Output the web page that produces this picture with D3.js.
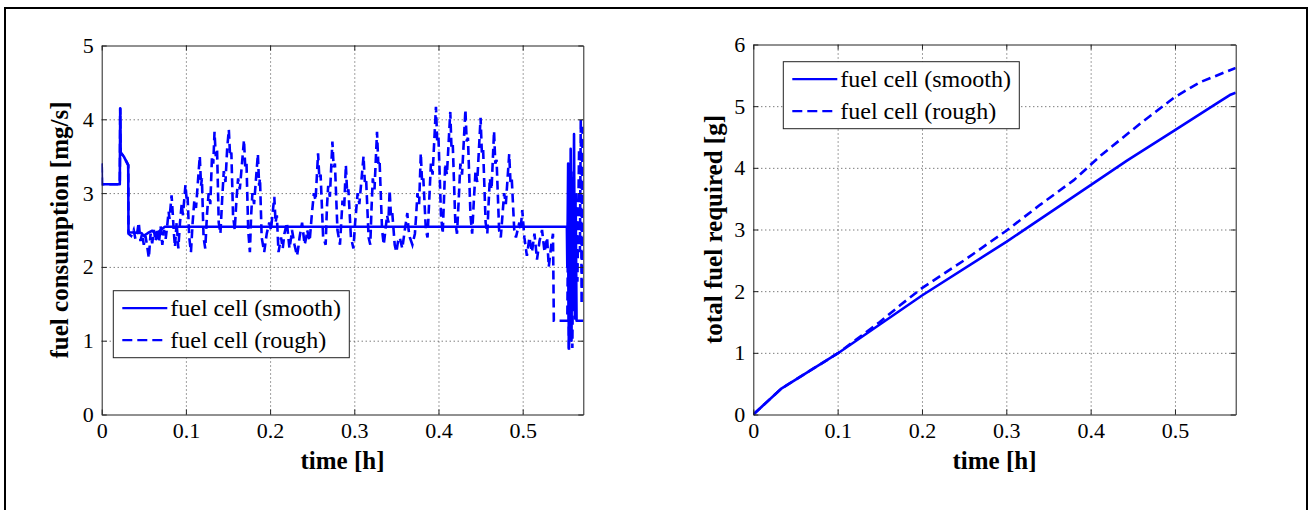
<!DOCTYPE html>
<html>
<head>
<meta charset="utf-8">
<script src="https://cdn.jsdelivr.net/npm/d3@7"></script>
<style>
  body { margin: 0; background: #fff; }
  svg { display: block; }
  text { font-family: "Liberation Serif", "Times New Roman", Times, serif; }
  .grid line { stroke: #444; stroke-width: 1; stroke-dasharray: 1,3; }
  .grid path { display: none; }
  .ax path, .ax line { stroke: #222; }
  .ax text { font-size: 22px; fill: #000; }
</style>
</head>
<body>
<svg id="fig" width="1310" height="510"></svg>
<script>
// ---- data ----
const timeTicks = [0, 0.1, 0.2, 0.3, 0.4, 0.5]
const rateTicks = [0, 1, 2, 3, 4, 5]
const totalTicks = [0, 1, 2, 3, 4, 5, 6]
const legendNames = ["fuel cell (smooth)", "fuel cell (rough)"]

// fuel consumption [mg/s], smooth profile: [time h, value]
const rateSmooth = [
  [0, 3.4], [0.0003, 3.12], [0.0215, 3.12], [0.022, 4.15], [0.0225, 3.55], [0.026, 3.5],
  [0.0315, 3.38], [0.0318, 2.47], [0.047, 2.46], [0.05, 2.42], [0.055, 2.46], [0.06, 2.49],
  [0.065, 2.44], [0.07, 2.5], [0.075, 2.545], [0.5525, 2.545],
  [0.553, 2.0], [0.554, 3.4], [0.5548, 0.9], [0.5556, 3.0], [0.5563, 1.2], [0.557, 3.6],
  [0.558, 1.0], [0.559, 3.2], [0.56, 1.5], [0.561, 3.8], [0.562, 1.3], [0.563, 2.8],
  [0.564, 1.27], [0.572, 1.27]
]

// fuel consumption [mg/s], rough profile
const rateRough = [
  [0, 3.4], [0.0003, 3.12], [0.0215, 3.12], [0.022, 4.15], [0.0225, 3.55], [0.026, 3.5],
  [0.0315, 3.38], [0.0318, 2.45],
  [0.035, 2.42], [0.038, 2.5], [0.04, 2.38], [0.042, 2.45], [0.044, 2.6], [0.046, 2.35],
  [0.048, 2.45], [0.05, 2.3], [0.052, 2.42], [0.054, 2.28], [0.056, 2.12], [0.058, 2.45],
  [0.06, 2.32], [0.062, 2.5], [0.064, 2.35], [0.066, 2.52], [0.068, 2.33], [0.07, 2.55],
  [0.072, 2.3], [0.074, 2.5], [0.076, 2.38], [0.078, 2.58],
  [0.0795, 2.75], [0.0805, 2.65], [0.083, 2.97], [0.0845, 2.7], [0.0855, 2.5], [0.087, 2.27],
  [0.089, 2.6], [0.091, 2.25],
  [0.093, 2.6], [0.095, 2.85], [0.0965, 2.7], [0.0995, 3.11], [0.101, 2.9], [0.102, 2.95],
  [0.104, 2.4], [0.106, 2.2],
  [0.108, 2.6], [0.11, 2.9], [0.112, 2.8], [0.1165, 3.5], [0.118, 3.1], [0.119, 3.2],
  [0.121, 2.4], [0.123, 2.25],
  [0.125, 2.7], [0.127, 3.0], [0.129, 2.85], [0.131, 3.5], [0.1325, 3.4], [0.134, 3.83],
  [0.1355, 3.5], [0.137, 3.6], [0.139, 2.6], [0.141, 2.45],
  [0.143, 2.9], [0.145, 3.3], [0.147, 3.15], [0.149, 3.6], [0.151, 3.86], [0.1525, 3.5],
  [0.154, 3.55], [0.156, 2.7], [0.158, 2.5],
  [0.16, 2.9], [0.162, 3.2], [0.164, 3.05], [0.169, 3.72], [0.1705, 3.35], [0.172, 3.4],
  [0.174, 2.5], [0.176, 2.2],
  [0.1775, 2.7], [0.179, 3.0], [0.181, 2.85], [0.1855, 3.53], [0.187, 3.1], [0.188, 3.2],
  [0.19, 2.4], [0.193, 2.2],
  [0.196, 2.45], [0.199, 2.6], [0.201, 2.5], [0.205, 2.95], [0.2065, 2.6], [0.208, 2.7],
  [0.21, 2.2], [0.213, 2.4],
  [0.215, 2.25], [0.217, 2.45], [0.22, 2.6], [0.223, 2.25], [0.225, 2.4], [0.226, 2.5],
  [0.229, 2.3], [0.232, 2.15], [0.234, 2.3], [0.235, 2.4], [0.238, 2.6], [0.241, 2.3],
  [0.243, 2.4], [0.244, 2.5], [0.247, 2.35],
  [0.2495, 2.7], [0.252, 3.0], [0.254, 2.9], [0.257, 3.54], [0.2585, 3.2], [0.26, 3.25],
  [0.263, 2.4], [0.266, 2.3],
  [0.2675, 2.8], [0.269, 3.1], [0.271, 2.95], [0.274, 3.7], [0.2755, 3.35], [0.277, 3.4],
  [0.28, 2.5], [0.283, 2.3],
  [0.2845, 2.6], [0.286, 2.9], [0.288, 2.8], [0.29, 3.38], [0.2915, 3.0], [0.293, 3.05],
  [0.296, 2.4], [0.299, 2.25],
  [0.301, 2.6], [0.304, 3.0], [0.306, 2.85], [0.311, 3.5], [0.3125, 3.15], [0.314, 3.2],
  [0.317, 2.4], [0.319, 2.3],
  [0.3205, 2.8], [0.322, 3.2], [0.324, 3.05], [0.327, 3.83], [0.3285, 3.4], [0.33, 3.45],
  [0.333, 2.5], [0.335, 2.3],
  [0.337, 2.5], [0.339, 2.7], [0.3405, 2.6], [0.342, 3.04], [0.3435, 2.7], [0.345, 2.75],
  [0.348, 2.3], [0.35, 2.2],
  [0.352, 2.35], [0.354, 2.4], [0.357, 2.25], [0.36, 2.5], [0.363, 2.73], [0.3645, 2.5],
  [0.366, 2.4], [0.369, 2.3], [0.372, 2.45],
  [0.3735, 2.7], [0.375, 3.0], [0.377, 2.85], [0.379, 3.54], [0.3805, 3.15], [0.382, 3.2],
  [0.385, 2.5], [0.387, 2.4],
  [0.389, 2.9], [0.391, 3.4], [0.393, 3.25], [0.397, 4.17], [0.3985, 3.7], [0.4, 3.75],
  [0.403, 2.7], [0.405, 2.45],
  [0.4065, 2.9], [0.408, 3.4], [0.41, 3.25], [0.414, 4.1], [0.4155, 3.6], [0.417, 3.65],
  [0.42, 2.6], [0.422, 2.45],
  [0.424, 2.9], [0.426, 3.4], [0.428, 3.25], [0.432, 4.13], [0.4335, 3.7], [0.435, 3.75],
  [0.438, 2.7], [0.44, 2.45],
  [0.442, 2.9], [0.444, 3.3], [0.446, 3.15], [0.45, 4.02], [0.4515, 3.55], [0.453, 3.6],
  [0.456, 2.6], [0.458, 2.45],
  [0.4595, 2.85], [0.461, 3.2], [0.463, 3.05], [0.466, 3.84], [0.4675, 3.4], [0.469, 3.45],
  [0.472, 2.5], [0.474, 2.4],
  [0.476, 2.7], [0.478, 3.0], [0.48, 2.85], [0.484, 3.53], [0.4855, 3.15], [0.487, 3.2],
  [0.49, 2.5], [0.492, 2.4],
  [0.494, 2.5], [0.496, 2.6], [0.4975, 2.5], [0.4995, 2.77], [0.502, 2.4], [0.505, 2.15],
  [0.508, 2.4], [0.511, 2.2], [0.514, 2.45], [0.517, 2.1], [0.52, 2.35], [0.523, 2.5],
  [0.526, 2.2], [0.529, 2.4], [0.531, 2.0], [0.534, 2.3], [0.536, 2.45],
  [0.537, 1.27], [0.553, 1.27],
  [0.554, 2.6], [0.555, 0.85], [0.556, 2.8], [0.557, 1.0], [0.558, 3.3], [0.559, 0.9],
  [0.56, 2.5], [0.561, 1.4], [0.563, 3.0], [0.565, 1.8], [0.567, 3.6], [0.568, 2.2],
  [0.569, 4.0], [0.57, 1.5], [0.571, 3.8], [0.572, 3.9]
]

// total fuel required [g]
const totalSmooth = [
  [0, 0], [0.0337, 0.425], [0.1, 0.99], [0.2, 1.93], [0.3, 2.8], [0.4, 3.72],
  [0.4435, 4.12], [0.5, 4.61], [0.55, 5.05], [0.565, 5.18], [0.572, 5.22]
]
const totalRough = [
  [0, 0], [0.0337, 0.425], [0.1, 0.99], [0.14, 1.4], [0.145, 1.45], [0.15, 1.5],
  [0.174, 1.77], [0.2, 2.05], [0.25, 2.5], [0.3, 2.98], [0.34, 3.4], [0.38, 3.8],
  [0.412, 4.2], [0.459, 4.72], [0.5, 5.15], [0.53, 5.39], [0.572, 5.62]
]

const svg = d3.select("#fig")
svg.append("rect").attr("width", 1310).attr("height", 510).attr("fill", "#fff")
// outer figure frame
svg.append("path").attr("d", "M5,512V8H1307V512").attr("fill", "none")
  .attr("stroke", "#000").attr("stroke-width", 2)

function panel(o){
  const w = o.right - o.left, h = o.bottom - o.top
  const x = d3.scaleLinear().domain([0, 0.572]).range([0, w])
  const y = d3.scaleLinear().domain(o.ydom).range([h, 0])
  const g = svg.append("g").attr("transform", `translate(${o.left},${o.top})`)

  // grid
  g.append("g").attr("class", "grid").attr("transform", `translate(0,${h})`)
    .call(d3.axisBottom(x).tickValues(timeTicks.slice(1)).tickSize(-h).tickFormat(""))
  g.append("g").attr("class", "grid")
    .call(d3.axisLeft(y).tickValues(o.yticks.slice(1, -1)).tickSize(-w).tickFormat(""))

  // data
  g.append("clipPath").attr("id", o.id + "clip").append("rect")
    .attr("x", 0).attr("y", -2).attr("width", w).attr("height", h + 4)
  const line = d3.line().x(d => x(d[0])).y(d => y(d[1]))
  const lines = g.append("g").attr("clip-path", `url(#${o.id}clip)`)
  lines.append("path").datum(o.smooth).attr("d", line)
    .attr("fill", "none").attr("stroke", "#0000ff").attr("stroke-width", 2.6)
    .attr("stroke-linejoin", "round")
  lines.append("path").datum(o.rough).attr("d", line)
    .attr("fill", "none").attr("stroke", "#0000ff").attr("stroke-width", 2.6)
    .attr("stroke-dasharray", "9,5")

  // axes, matlab style ticks pointing inward, box all around
  const fmt = d => d3.format("")(d)
  g.append("g").attr("class", "ax").attr("transform", `translate(0,${h})`)
    .call(d3.axisBottom(x).tickValues(timeTicks).tickSizeInner(-5).tickSizeOuter(0).tickPadding(8).tickFormat(fmt))
  g.append("g").attr("class", "ax")
    .call(d3.axisTop(x).tickValues(timeTicks).tickSizeInner(-5).tickSizeOuter(0).tickFormat(""))
  g.append("g").attr("class", "ax")
    .call(d3.axisLeft(y).tickValues(o.yticks).tickSizeInner(-5).tickSizeOuter(0).tickPadding(8).tickFormat(fmt))
  g.append("g").attr("class", "ax").attr("transform", `translate(${w},0)`)
    .call(d3.axisRight(y).tickValues(o.yticks).tickSizeInner(-5).tickSizeOuter(0).tickFormat(""))
  g.selectAll(".ax").attr("font-family", "Liberation Serif, serif")

  // axis titles
  g.append("text").attr("x", w / 2).attr("y", h + 54).attr("text-anchor", "middle")
    .attr("font-size", 25).attr("font-weight", "bold").text("time [h]")
  g.append("text").attr("transform", `translate(${o.ylabX},${h / 2}) rotate(-90)`)
    .attr("text-anchor", "middle").attr("font-size", 25).attr("font-weight", "bold").text(o.ylabel)

  // legend
  const lg = g.append("g").attr("transform", `translate(${o.leg[0]},${o.leg[1]})`)
  lg.append("rect").attr("width", 236).attr("height", 67).attr("fill", "#fff")
    .attr("stroke", "#222").attr("stroke-width", 1)
  legendNames.forEach((name, i) => {
    const yy = 17.5 + i * 32
    lg.append("line").attr("x1", 9).attr("x2", 54).attr("y1", yy).attr("y2", yy)
      .attr("stroke", "#0000ff").attr("stroke-width", 2.2)
      .attr("stroke-dasharray", i ? "10,5" : null)
    lg.append("text").attr("x", 57).attr("y", yy).attr("dy", "0.33em")
      .attr("font-size", 24).text(name)
  })
}

panel({id: "a", left: 101.7, right: 583.3, top: 45.5, bottom: 414.5, ydom: [0, 5], yticks: rateTicks,
  smooth: rateSmooth, rough: rateRough, ylabel: "fuel consumption [mg/s]", ylabX: -34, leg: [11.6, 245.2]})
panel({id: "b", left: 753.3, right: 1235.7, top: 44.5, bottom: 414.5, ydom: [0, 6], yticks: totalTicks,
  smooth: totalSmooth, rough: totalRough, ylabel: "total fuel required [g]", ylabX: -31, leg: [30, 17.2]})
</script>
</body>
</html>
